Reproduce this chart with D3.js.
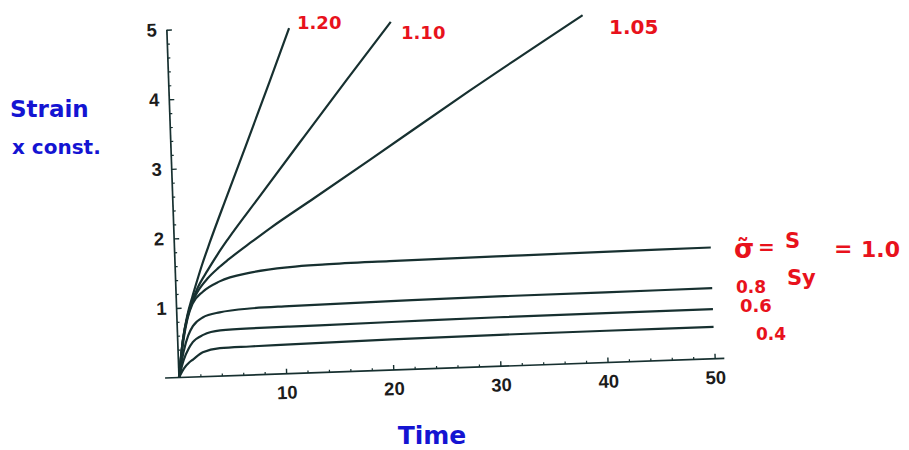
<!DOCTYPE html>
<html>
<head>
<meta charset="utf-8">
<script src="https://cdn.jsdelivr.net/npm/d3@7"></script>
<style>
body { margin: 0; background: #fff; }
</style>
</head>
<body>
<div id="chart"></div>
<script>
// creep curves, [time, strain x const.]
const curve120 = [[0,0],[0.5,0.55],[1,0.9],[1.5,1.15],[2,1.38],[2.5,1.6],[3.3,1.92],[5,2.56],[7,3.3],[9.4,4.2],[11.4,4.96]];
const curve110 = [[0,0],[0.5,0.55],[1,0.88],[1.5,1.1],[2,1.27],[3,1.52],[4,1.75],[5,1.96],[8,2.54],[12,3.31],[16.6,4.19],[20.9,5.0]];
const curve105 = [[0,0],[0.5,0.54],[1,0.87],[1.5,1.08],[2,1.22],[3,1.41],[4,1.55],[5,1.67],[7.3,1.92],[9,2.1],[13.2,2.51],[18.5,3.03],[28,3.97],[38.8,5.0]];
const curve100 = [[0,0],[0.5,0.5],[1,0.85],[1.5,1.05],[2.5,1.22],[4.1,1.36],[7,1.47],[10.7,1.53],[14,1.55],[20,1.565],[30,1.58],[40,1.59],[50,1.6]];
const curve080 = [[0,0],[0.5,0.36],[1,0.6],[1.46,0.73],[2.4,0.85],[4,0.915],[6.8,0.955],[10.5,0.97],[20,0.99],[30,1.005],[40,1.01],[50,1.015]];
const curve060 = [[0,0],[0.5,0.25],[1,0.41],[1.4,0.5],[2.4,0.6],[4,0.655],[6.8,0.67],[10.5,0.675],[20,0.69],[30,0.705],[40,0.71],[50,0.715]];
const curve040 = [[0,0],[0.5,0.13],[1,0.21],[1.36,0.25],[2.3,0.35],[3.9,0.4],[6.7,0.41],[10.5,0.42],[20,0.44],[30,0.452],[40,0.457],[50,0.46]];

const curves = [curve120, curve110, curve105, curve100, curve080, curve060, curve040];

const xTicks = [10, 20, 30, 40, 50];
const xMinor = [2,4,6,8,12,14,16,18,22,24,26,28,32,34,36,38,42,44,46,48];
const yTicks = [1, 2, 3, 4, 5];
const yMinor = [0.2,0.4,0.6,0.8,1.2,1.4,1.6,1.8,2.2,2.4,2.6,2.8,3.2,3.4,3.6,3.8,4.2,4.4,4.6,4.8];

const width = 909, height = 450;
const ink = "#173030";
const blue = "#1414d2", red = "#e8121c";

// the scan is tilted a little, so the plot sits in a rotated group
const origin = [179, 377.5], tilt = -2;

const x = d3.scaleLinear().domain([0, 50]).range([0, 536]);
const y = d3.scaleLinear().domain([0, 5]).range([0, -348]);

const svg = d3.select("#chart").append("svg")
	.attr("width", width)
	.attr("height", height);

const g = svg.append("g")
	.attr("transform", `translate(${origin}) rotate(${tilt})`);

function tickText(a) {
	a.selectAll("text")
		.attr("fill", "#1c1c1c")
		.style("font-family", "Liberation Sans, Arial, sans-serif")
		.style("font-size", "18.5px")
		.style("font-weight", "bold");
}

// x axis
g.append("line")
	.attr("x1", x(-1.3)).attr("x2", x(50.9))
	.attr("y1", 0).attr("y2", 0)
	.attr("stroke", ink).attr("stroke-width", 1.7);

g.append("g")
	.call(d3.axisBottom(x).tickValues(xMinor).tickSizeInner(-2.5).tickSizeOuter(0).tickFormat(""))
	.call(a => a.select(".domain").remove())
	.selectAll("line").attr("stroke", ink).attr("stroke-width", 1.2);

g.append("g")
	.call(d3.axisBottom(x).tickValues(xTicks).tickSizeInner(-5).tickSizeOuter(0).tickPadding(12).tickFormat(d3.format("d")))
	.call(a => a.select(".domain").remove())
	.call(a => a.selectAll("line").attr("stroke", ink).attr("stroke-width", 1.4))
	.call(tickText);

// y axis
g.append("line")
	.attr("x1", 0).attr("x2", 0)
	.attr("y1", y(0)).attr("y2", y(5))
	.attr("stroke", ink).attr("stroke-width", 1.7);

g.append("g")
	.call(d3.axisLeft(y).tickValues(yMinor).tickSizeInner(-2.5).tickSizeOuter(0).tickFormat(""))
	.call(a => a.select(".domain").remove())
	.selectAll("line").attr("stroke", ink).attr("stroke-width", 1.2);

g.append("g")
	.call(d3.axisLeft(y).tickValues(yTicks).tickSizeInner(-5).tickSizeOuter(0).tickPadding(10).tickFormat(d3.format("d")))
	.call(a => a.select(".domain").remove())
	.call(a => a.selectAll("line").attr("stroke", ink).attr("stroke-width", 1.4))
	.call(tickText);

// curves
const line = d3.line()
	.x(d => x(d[0]))
	.y(d => y(d[1]))
	.curve(d3.curveMonotoneX);

g.selectAll("path.curve")
	.data(curves)
	.enter()
	.append("path")
	.attr("class", "curve")
	.attr("d", line)
	.attr("fill", "none")
	.attr("stroke", ink)
	.attr("stroke-width", 2.2)
	.attr("stroke-linejoin", "round");

// hand-written labels
const hand = "'DejaVu Sans', sans-serif";

function note(px, py, txt, color, size, anchor) {
	return svg.append("text")
		.attr("x", px).attr("y", py)
		.attr("fill", color)
		.attr("text-anchor", anchor || "start")
		.style("font-family", hand)
		.style("font-size", size + "px")
		.style("font-weight", "bold")
		.text(txt);
}

note(10, 117, "Strain", blue, 23);
note(12, 154, "x const.", blue, 20);
note(432, 444, "Time", blue, 25, "middle");

note(297, 29, "1.20", red, 18);
note(401, 39, "1.10", red, 18);
note(609, 34, "1.05", red, 20);

note(734, 258, "σ\u0303", red, 26);
note(758, 254, "=", red, 20);
note(785, 248, "S", red, 21);
note(787, 285, "Sy", red, 21);
note(834, 256, "=", red, 22);
note(861, 257, "1.0", red, 22);

note(736, 293, "0.8", red, 17);
note(740, 312, "0.6", red, 18);
note(756, 340, "0.4", red, 17);
</script>
</body>
</html>
